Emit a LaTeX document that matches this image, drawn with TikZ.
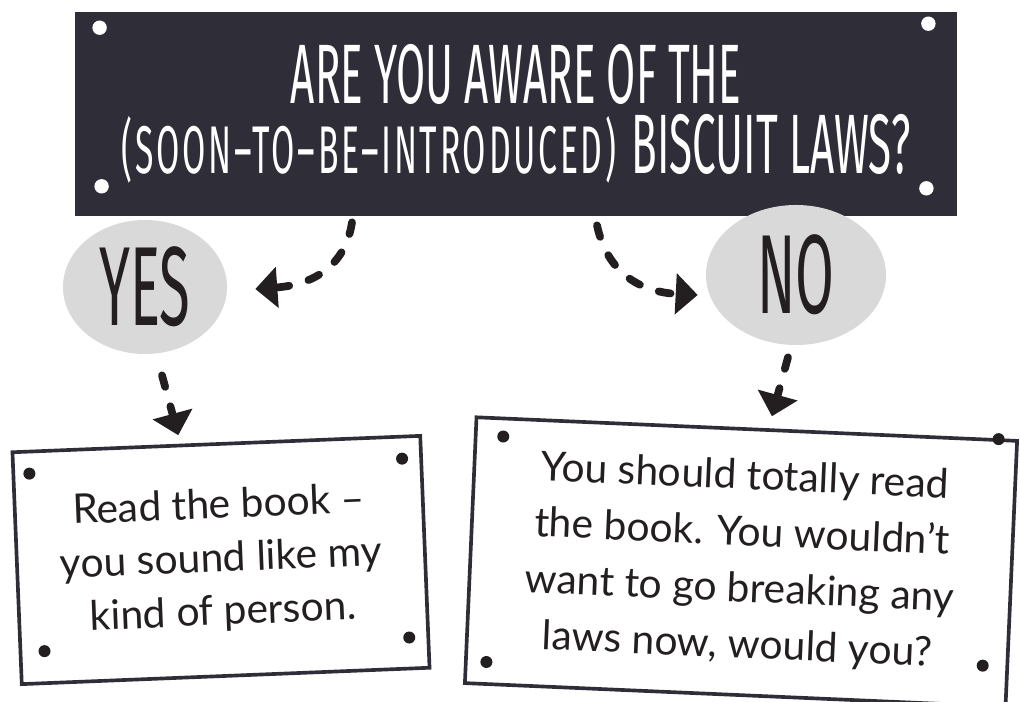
\documentclass[tikz,border=0pt]{standalone}
\usepackage{fontspec}
\setmainfont{Lato}
\newfontfamily\signfont[FakeStretch=0.5]{Fira Sans}
\newfontfamily\asidefont[FakeStretch=0.5,LetterSpace=4]{Fira Sans}
\usetikzlibrary{positioning,arrows.meta,shapes.geometric,calc}
\definecolor{slate}{HTML}{2E2D38}
\definecolor{ink}{HTML}{231F20}
\definecolor{bubble}{HTML}{D9D9D9}

\begin{document}
\begin{tikzpicture}[
    x=0.025cm, y=-0.025cm,
    question/.style={rectangle, fill=slate, minimum width=22.05cm, minimum height=5.1cm, text=white, align=center, font=\signfont\fontsize{60}{50}\selectfont},
    answer/.style={ellipse, fill=bubble, inner sep=0pt, text=ink, font=\signfont\fontsize{80}{80}\selectfont},
    sign/.style={rectangle, draw=slate, line width=2.6pt, fill=white, align=center, text=ink, font=\fontsize{29}{38}\selectfont},
    pin/.style={fill=ink},
    dasharrow/.style={draw=ink, line width=5.5pt, line cap=round, dash pattern=on 0.3cm off 0.5cm, -{Triangle[length=0.55cm,width=1cm]}}
]
\useasboundingbox (0,0) rectangle (1020,702);

% question and the two answers
\node[question] (quest) at (516,114) {ARE YOU AWARE OF THE\\{\asidefont\fontsize{48}{50}\selectfont(SOON–TO–BE–INTRODUCED)}\hspace{3pt} BISCUIT LAWS?};
\node[answer, minimum width=4.1cm, minimum height=3.35cm] (yes) at (145,287) {YES};
\node[answer, minimum width=4.5cm, minimum height=3.5cm] (no) at (796,275) {NO};

% the two signs
\node[sign, minimum width=10.2cm, minimum height=5.8cm, rotate=2.3] (yesbox) at (221,560) {Read the book –\\you sound like my\\kind of person.};
\node[sign, minimum width=13.525cm, minimum height=6.65cm, rotate=-2.5, font=\fontsize{29}{40}\selectfont] (nobox) at (741,562) {You should totally read\\the book. You wouldn’t\\want to go breaking any\\laws now, would you?};

% pins
\fill[white] ($(quest.north west)+(25,16)$) circle[radius=0.18cm]
    ($(quest.north east)+(-29,12)$) circle[radius=0.18cm]
    ($(quest.south west)+(27,-30)$) circle[radius=0.18cm]
    ($(quest.south east)+(-31,-28)$) circle[radius=0.18cm];
\begin{scope}[shift={(yesbox.center)}, rotate=2.3]
  \fill[pin] (-188,-94) circle[radius=0.15cm] (185,-94) circle[radius=0.15cm]
      (-180,84) circle[radius=0.15cm] (185,85) circle[radius=0.15cm];
\end{scope}
\begin{scope}[shift={(nobox.center)}, rotate=-2.5]
  \fill[pin] (-243,-115) circle[radius=0.15cm] (252,-134) circle[radius=0.15cm]
      (-250,111) circle[radius=0.15cm] (246,93) circle[radius=0.15cm];
\end{scope}

% arrows
\draw[dasharrow] ($(quest.south)+(-164,6)$) .. controls +(-7,46) and +(55,-4) .. ($(yes.east)+(28,2)$);
\draw[dasharrow] ($(quest.south)+(81,9)$) .. controls +(10,47) and +(-58,-3) .. ($(no.west)+(-8,20)$);
\draw[dasharrow] ($(yes.south)+(17,21)$) -- ($(yesbox.north)+(-38,-7)$);
\draw[dasharrow] ($(no.south)+(-8,12)$) -- ($(nobox.north)+(25,-11)$);
\end{tikzpicture}
\end{document}
